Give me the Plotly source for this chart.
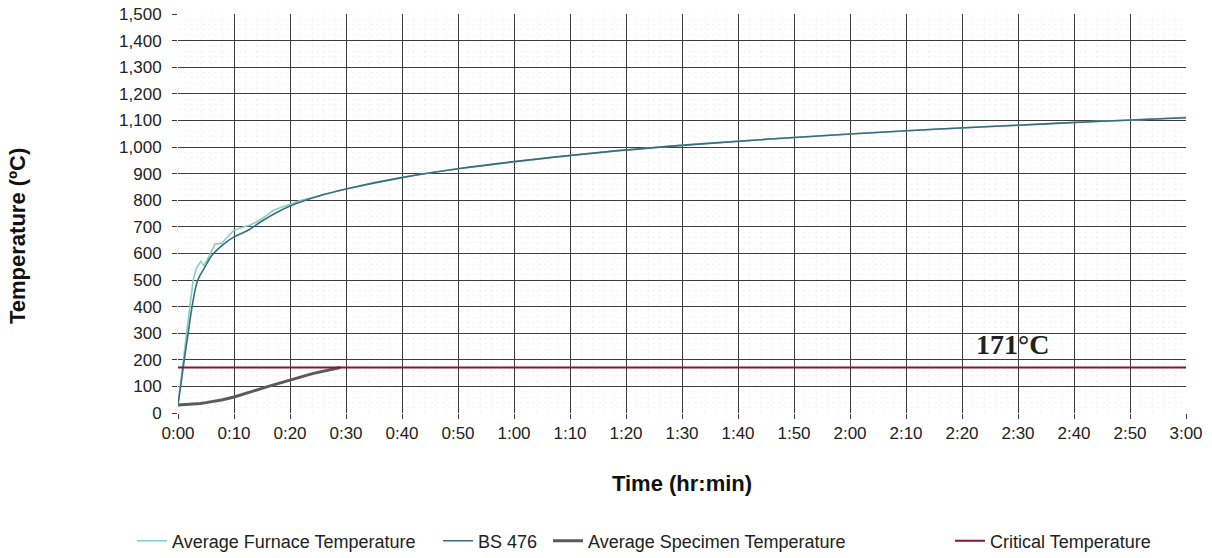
import plotly.graph_objects as go

# ---- data (minutes, °C) ----
furnace_t = [0, 0.9, 1.5, 2.1, 2.7, 3.3, 4.07, 4.6, 5.2, 6, 6.6, 7.8, 8.6, 9.9, 11, 12, 13, 14,
             15, 16, 17, 18, 19, 20, 22, 25, 30, 35, 40, 45, 50, 60, 70, 80, 90, 100, 110,
             120, 130, 140, 150, 160, 170, 180]
furnace_T = [32, 198, 298, 398, 498, 545, 570, 554, 575, 610, 635, 638, 655, 685, 695, 702,
             708, 718, 730, 745, 762, 770, 778, 787, 800, 815, 842, 866, 886, 903, 918, 944,
             968, 989, 1007, 1022, 1036, 1049, 1061, 1072, 1083, 1093, 1101, 1112]

bs476_t = [0, 0.5, 1.1, 1.8, 2.5, 3.5, 4.8, 6, 8, 10, 12.6, 15, 20, 25, 30, 40, 50, 60, 75, 90,
           105, 120, 135, 150, 165, 180]
bs476_T = [32, 105, 198, 298, 398, 498, 548, 591, 632, 662, 688, 722, 778, 815, 842, 885,
           918, 945, 979, 1006, 1029, 1049, 1067, 1082, 1097, 1110]

specimen_t = [0, 1, 2, 3, 4, 5, 6, 8, 10, 12, 14, 16, 18, 20, 22, 24, 26, 28, 29]
specimen_T = [30, 31, 32, 34, 36, 39, 42, 50, 60, 72, 86, 99, 112, 125, 136, 148, 158, 166, 171]

critical_t = [0, 180]
critical_T = [171, 171]

x_tickvals = list(range(0, 181, 10))
x_ticktext = ["0:00", "0:10", "0:20", "0:30", "0:40", "0:50", "1:00", "1:10", "1:20", "1:30",
              "1:40", "1:50", "2:00", "2:10", "2:20", "2:30", "2:40", "2:50", "3:00"]

annotation_text = "<b>171°C</b>"
annotation_x = 149
annotation_y = 259

FONT = "Liberation Sans, Arial, sans-serif"

fig = go.Figure()
fig.add_trace(go.Scatter(x=furnace_t, y=furnace_T, mode="lines", name="Average Furnace Temperature",
                         line=dict(color="#86cfc2", width=1.6), legend="legend"))
fig.add_trace(go.Scatter(x=bs476_t, y=bs476_T, mode="lines", name="BS 476", line_shape="spline",
                         line=dict(color="#3b6b7c", width=1.6), legend="legend2"))
fig.add_trace(go.Scatter(x=specimen_t, y=specimen_T, mode="lines", name="Average Specimen Temperature",
                         line=dict(color="#5a5a5a", width=3), legend="legend3"))
fig.add_trace(go.Scatter(x=critical_t, y=critical_T, mode="lines", name="Critical Temperature",
                         line=dict(color="#7d1a35", width=2), legend="legend4"))

fig.add_annotation(x=annotation_x, y=annotation_y, text=annotation_text, showarrow=False,
                   font=dict(family="Liberation Serif, Times New Roman, serif", size=28, color="#222"),
                   xanchor="center", yanchor="middle")

L, R, T, B = 178, 1186, 14, 413
def px2x(px):
    return (px - L) / (R - L)
def px2y(py):
    return (B - py) / (B - T)

# y-axis title placed as annotation
fig.add_annotation(xref="paper", yref="paper", x=px2x(17), y=px2y(236), text="<b>Temperature (ºC)</b>",
                   textangle=-90, showarrow=False, xanchor="center", yanchor="middle",
                   font=dict(family=FONT, size=22, color="#111"))

legend_common = dict(orientation="h", yanchor="middle", xanchor="left", y=px2y(541),
                     bgcolor="rgba(0,0,0,0)", font=dict(family=FONT, size=18, color="#222"),
                     itemwidth=30)

fig.update_layout(
    width=1212, height=558,
    showlegend=True,
    margin=dict(l=L, r=1212 - R, t=T, b=558 - B, autoexpand=False),
    paper_bgcolor="white", plot_bgcolor="white",
    font=dict(family=FONT, size=17, color="#222"),
    legend=dict(legend_common, x=px2x(132)),
    legend2=dict(legend_common, x=px2x(438)),
    legend3=dict(legend_common, x=px2x(548)),
    legend4=dict(legend_common, x=px2x(950)),
    xaxis=dict(range=[0, 180], tickvals=x_tickvals, ticktext=x_ticktext,
               showgrid=True, gridcolor="#3c3c3c", gridwidth=1,
               ticks="outside", ticklen=5, tickcolor="#3c3c3c",
               zeroline=False, showline=False,
               tickfont=dict(family=FONT, size=17, color="#222"),
               minor=dict(dtick=2, showgrid=True, gridcolor="rgba(0,0,0,0.04)", griddash="dot"),
               title=dict(text="<b>Time (hr:min)</b>", standoff=33,
                          font=dict(family=FONT, size=22, color="#111"))),
    yaxis=dict(range=[0, 1500], dtick=100, tickformat=",d",
               showgrid=True, gridcolor="#3c3c3c", gridwidth=1,
               ticks="outside", ticklen=5, tickcolor="#3c3c3c",
               zeroline=False, showline=False, ticklabelstandoff=7,
               tickfont=dict(family=FONT, size=17, color="#222"),
               minor=dict(dtick=20, showgrid=True, gridcolor="rgba(0,0,0,0.04)", griddash="dot")),
)

fig.write_html("out.html", config={"displayModeBar": False},
               post_script="document.body.style.margin='0';")
